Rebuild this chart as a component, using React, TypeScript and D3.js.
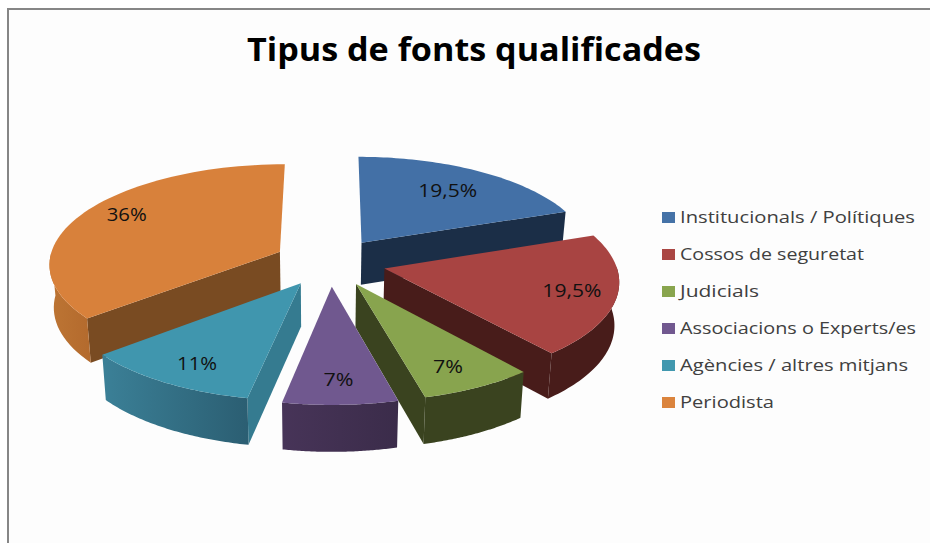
import React from "react";
import * as d3 from "d3";

const categories = ["Institucionals / Polítiques", "Cossos de seguretat", "Judicials", "Associacions o Experts/es", "Agències / altres mitjans", "Periodista"];
const values = [19.5, 19.5, 7, 7, 11, 36];
const valueLabels = ["19,5%", "19,5%", "7%", "7%", "11%", "36%"];
const topColors = ["#4370a6", "#a84442", "#88a44e", "#70588f", "#4096ae", "#d8813b"];
const rimColorsA = ["#1b2e47", "#481c1a", "#3a431f", "#473458", "#3b8097", "#bd7534"];
const rimColorsB = ["#1b2e47", "#481c1a", "#3a431f", "#3b2c4a", "#2b5e72", "#b36a2d"];
const edgeColors = ["#1b2e47", "#481c1a", "#3a431f", "#453457", "#357b90", "#794b22"];
const legendColors = ["#4572a7", "#aa4643", "#89a54e", "#71588f", "#4198af", "#db843d"];
const legendWidths = [235, 184, 79, 236, 228, 94];
const labelWidths = [59, 59, 30, 30, 40, 40];
const labelRadius = [0.72, 0.81, 0.8, 0.8, 0.81, 0.82];
const labelTurn = [0, 0, 1.2, 0, -1.5, 4.8];
const paintOrder = [0, 5, 1, 4, 2, 3];

const W = 930, H = 543;
const CX = 330, CY = 262, R = 231, TILT = 0.43, PERSP = 0.11, EXPLODE = 56;
const VANISH_X = 320, SHRINK = 0.984, DEPTH = 42, DEPTH_GROW = 0.03;

type P = [number, number];
const project = (X: number, Y: number): P => {
  const s = 1 / (1 + (PERSP * Y) / R);
  return [CX + X * s, CY - TILT * Y * s];
};
const down = ([x, y]: P): P => [VANISH_X + (x - VANISH_X) * SHRINK, y + DEPTH + (y - 241) * DEPTH_GROW];
const line = d3.line<P>().curve(d3.curveLinear);

// A cut face shows only when the slice's own top lies on the far side of its edge.
const wallShows = (apex: P, tip: P, inner: P) => {
  const ex = tip[0] - apex[0], ey = tip[1] - apex[1];
  const len = Math.hypot(ex, ey);
  if (Math.abs(ex) / len < 0.1) return false;
  const side = ex * (inner[1] - apex[1]) - ey * (inner[0] - apex[0]);
  return Math.sign(side) !== Math.sign(ex);
};

const arcs = d3.pie<number>().sort(null)(values);

export default function App() {
  const slices = arcs.map((a, i) => {
    const mid = (a.startAngle + a.endAngle) / 2;
    const ox = EXPLODE * Math.sin(mid), oy = EXPLODE * Math.cos(mid);
    const at = (t: number, r = R): P => project(ox + r * Math.sin(t), oy + r * Math.cos(t));
    const apex = project(ox, oy);
    const angles = d3.range(0, 61).map((k) => a.startAngle + ((a.endAngle - a.startAngle) * k) / 60);
    const rim = angles.map((t) => at(t));
    const frontRim = angles.filter((t) => Math.cos(t) < 0.02).map((t) => at(t));
    const first = rim[0], last = rim[rim.length - 1], inner = at(mid);
    const turn = mid + (labelTurn[i] * Math.PI) / 180;
    const label = at(turn, labelRadius[i] * R);
    const wall = (tip: P) => (wallShows(apex, tip, inner) ? line([apex, tip, down(tip), down(apex)])! + "Z" : null);
    return {
      i,
      top: line([apex, ...rim])! + "Z",
      rimWall: frontRim.length ? line([...frontRim, ...frontRim.map(down).reverse()])! + "Z" : null,
      startWall: wall(first),
      endWall: wall(last),
      label,
    };
  });
  const legendY = d3.scalePoint<number>().domain(d3.range(categories.length)).range([218, 403]);

  return (
    <svg width={W} height={H} viewBox={`0 0 ${W} ${H}`} style={{ position: "fixed", left: 0, top: 0, display: "block", background: "#ffffff" }}>
      <defs>
        {slices.map((s) => (
          <linearGradient key={s.i} id={`rim${s.i}`} x1="0" x2="1" y1="0" y2="0">
            <stop offset="0" stopColor={rimColorsA[s.i]} />
            <stop offset="1" stopColor={rimColorsB[s.i]} />
          </linearGradient>
        ))}
      </defs>
      <path d={`M8 ${H}V9H${W}V${H}Z`} fill="#fdfdfd" stroke="none" />
      <path d={`M8 ${H}V9H${W}`} fill="none" stroke="#868686" strokeWidth={2} />
      <text x={474} y={60.5} textAnchor="middle" textLength={454} lengthAdjust="spacingAndGlyphs"
        style={{ fontFamily: "'Open Sans', sans-serif", fontWeight: 700, fontSize: 33, fill: "#000" }}>
        Tipus de fonts qualificades
      </text>
      {paintOrder.map((i) => {
        const s = slices[i];
        return (
          <g key={i}>
            {s.startWall && <path d={s.startWall} fill={edgeColors[i]} />}
            {s.endWall && <path d={s.endWall} fill={edgeColors[i]} />}
            {s.rimWall && <path d={s.rimWall} fill={`url(#rim${i})`} />}
            <path d={s.top} fill={topColors[i]} />
          </g>
        );
      })}
      {slices.map((s) => (
        <text key={s.i} x={s.label[0]} y={s.label[1] + 7} textAnchor="middle" textLength={labelWidths[s.i]} lengthAdjust="spacingAndGlyphs"
          style={{ fontFamily: "'Open Sans', sans-serif", fontSize: 19, fill: "#111" }}>
          {valueLabels[s.i]}
        </text>
      ))}
      {categories.map((c, i) => (
        <g key={c}>
          <rect x={662} y={legendY(i)! - 6} width={13} height={11} fill={legendColors[i]} />
          <text x={680} y={legendY(i)! + 5} textLength={legendWidths[i]} lengthAdjust="spacingAndGlyphs"
            style={{ fontFamily: "'Open Sans', sans-serif", fontSize: 16.5, fill: "#404040" }}>
            {c}
          </text>
        </g>
      ))}
    </svg>
  );
}
